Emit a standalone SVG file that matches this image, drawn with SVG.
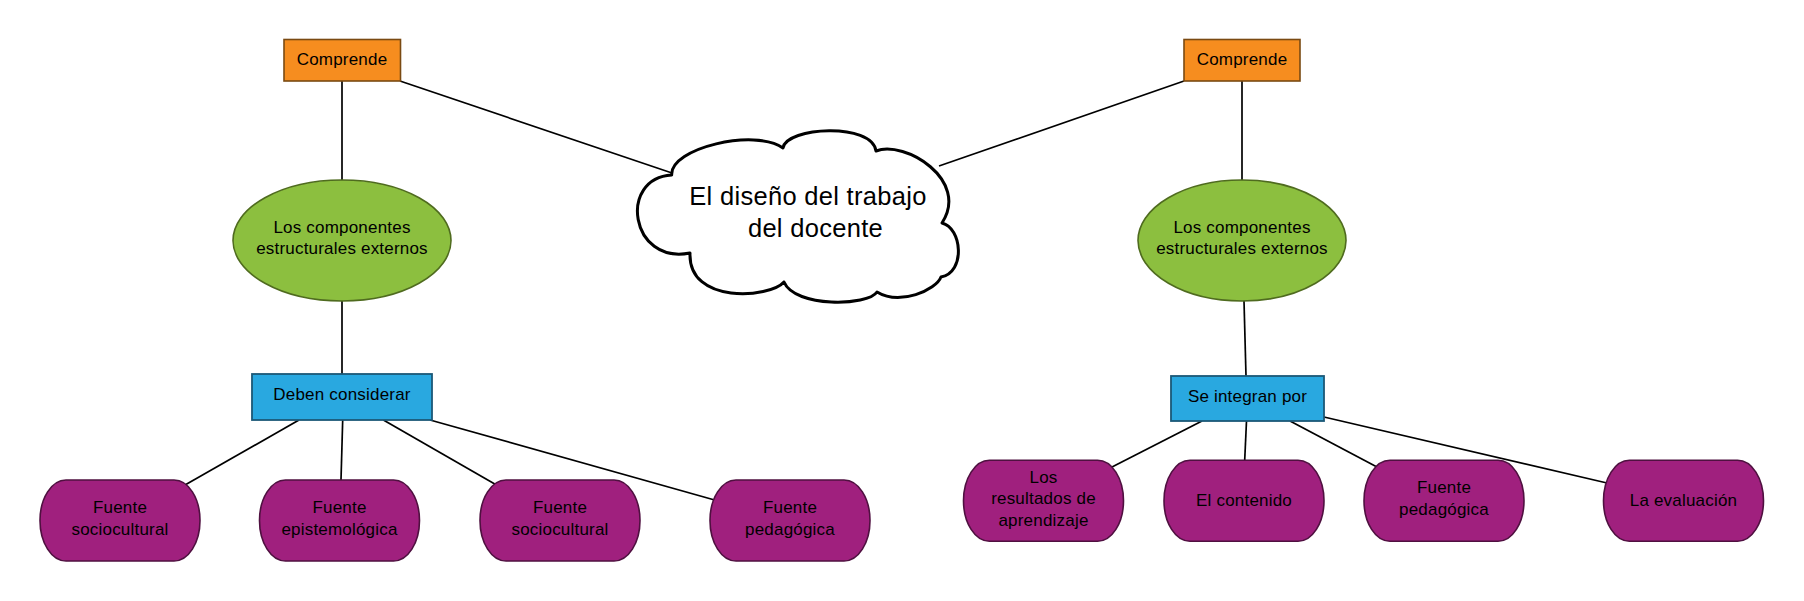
<svg xmlns="http://www.w3.org/2000/svg" width="1804" height="601" viewBox="0 0 1804 601">
  <style>
    .t { font-family: "Liberation Sans", Arial, sans-serif; font-size: 17px; fill: #000; text-anchor: middle; letter-spacing: 0.2px; }
    .big { font-size: 25.5px; letter-spacing: 0.3px; }
    .orange { fill: #f68d1f; stroke: #7a4a12; stroke-width: 1.6; }
    .green { fill: #8cbf3f; stroke: #4f6b1f; stroke-width: 1.6; }
    .blue { fill: #29a8e0; stroke: #1b5877; stroke-width: 1.8; }
    .purple { fill: #a0207e; stroke: #4f1040; stroke-width: 1.6; }
    .conn line { stroke: #000; stroke-width: 1.7; }
  </style>
  <rect width="1804" height="601" fill="#ffffff"/>

  <g id="connectors" class="conn">
    <line x1="342" y1="81" x2="342" y2="180"/>
    <line x1="400" y1="81" x2="672" y2="173"/>
    <line x1="1184" y1="81" x2="939" y2="166"/>
    <line x1="1242" y1="81" x2="1242" y2="180"/>
    <line x1="342" y1="301" x2="342" y2="374"/>
    <line x1="1244" y1="301" x2="1246" y2="376"/>
    <line x1="299" y1="420" x2="185" y2="485"/>
    <line x1="342.7" y1="420" x2="341" y2="480"/>
    <line x1="383.4" y1="420" x2="496.5" y2="485"/>
    <line x1="430" y1="420" x2="714.6" y2="500"/>
    <line x1="1202" y1="421" x2="1112" y2="467"/>
    <line x1="1246.5" y1="421" x2="1244.7" y2="460.5"/>
    <line x1="1290" y1="421" x2="1377" y2="467"/>
    <line x1="1324" y1="417" x2="1607" y2="483"/>
  </g>

  <g id="cloud">
    <path d="M671.7,175 C670,148 755,128 783,148 C786,127 872,122 876,151 C905,140 970,180 942,223 C962,228 966,272 941,277 C936,290 900,306 877,292 C868,306 795,308 784,282 C770,298 688,305 690,253 C630,265 618,178 671.7,175 Z" fill="#ffffff" stroke="#000" stroke-width="3" stroke-linejoin="round"/>
    <text class="t big" x="808" y="204.5">El diseño del trabajo</text>
    <text class="t big" x="815.5" y="236.5">del docente</text>
  </g>

  <g id="comprende-left">
    <rect class="orange" x="284" y="39.5" width="116.5" height="41.5"/>
    <text class="t" x="342" y="65">Comprende</text>
  </g>
  <g id="comprende-right">
    <rect class="orange" x="1184" y="39.5" width="116" height="41.5"/>
    <text class="t" x="1242" y="65">Comprende</text>
  </g>

  <g id="componentes-left">
    <ellipse class="green" cx="342" cy="240.5" rx="109" ry="60.5"/>
    <text class="t" x="342" y="232.7">Los componentes</text>
    <text class="t" x="342" y="254.3">estructurales externos</text>
  </g>
  <g id="componentes-right">
    <ellipse class="green" cx="1242" cy="240.5" rx="104" ry="60.5"/>
    <text class="t" x="1242" y="232.7">Los componentes</text>
    <text class="t" x="1242" y="254.3">estructurales externos</text>
  </g>

  <g id="deben-considerar">
    <rect class="blue" x="252" y="374" width="180" height="46"/>
    <text class="t" x="342" y="400">Deben considerar</text>
  </g>
  <g id="se-integran-por">
    <rect class="blue" x="1171" y="376" width="153" height="45"/>
    <text class="t" x="1247.5" y="402.4">Se integran por</text>
  </g>

  <g id="fuente-sociocultural-1">
    <rect class="purple" x="40" y="480" width="160" height="81" rx="26" ry="40.5"/>
    <text class="t" x="120" y="513.3">Fuente</text>
    <text class="t" x="120" y="535">sociocultural</text>
  </g>
  <g id="fuente-epistemologica">
    <rect class="purple" x="259.5" y="480" width="160" height="81" rx="26" ry="40.5"/>
    <text class="t" x="339.5" y="513.3">Fuente</text>
    <text class="t" x="339.5" y="535">epistemológica</text>
  </g>
  <g id="fuente-sociocultural-2">
    <rect class="purple" x="480" y="480" width="160" height="81" rx="26" ry="40.5"/>
    <text class="t" x="560" y="513.3">Fuente</text>
    <text class="t" x="560" y="535">sociocultural</text>
  </g>
  <g id="fuente-pedagogica-1">
    <rect class="purple" x="710" y="480" width="160" height="81" rx="26" ry="40.5"/>
    <text class="t" x="790" y="513.3">Fuente</text>
    <text class="t" x="790" y="535">pedagógica</text>
  </g>

  <g id="resultados-aprendizaje">
    <rect class="purple" x="963.5" y="460.3" width="160" height="81" rx="26" ry="40.5"/>
    <text class="t" x="1043.5" y="482.7">Los</text>
    <text class="t" x="1043.5" y="504.3">resultados de</text>
    <text class="t" x="1043.5" y="525.5">aprendizaje</text>
  </g>
  <g id="el-contenido">
    <rect class="purple" x="1164" y="460.3" width="160" height="81" rx="26" ry="40.5"/>
    <text class="t" x="1244" y="506">El contenido</text>
  </g>
  <g id="fuente-pedagogica-2">
    <rect class="purple" x="1364" y="460.3" width="160" height="81" rx="26" ry="40.5"/>
    <text class="t" x="1444" y="493.3">Fuente</text>
    <text class="t" x="1444" y="515">pedagógica</text>
  </g>
  <g id="la-evaluacion">
    <rect class="purple" x="1603.5" y="460.3" width="160" height="81" rx="26" ry="40.5"/>
    <text class="t" x="1683.5" y="506">La evaluación</text>
  </g>
</svg>
